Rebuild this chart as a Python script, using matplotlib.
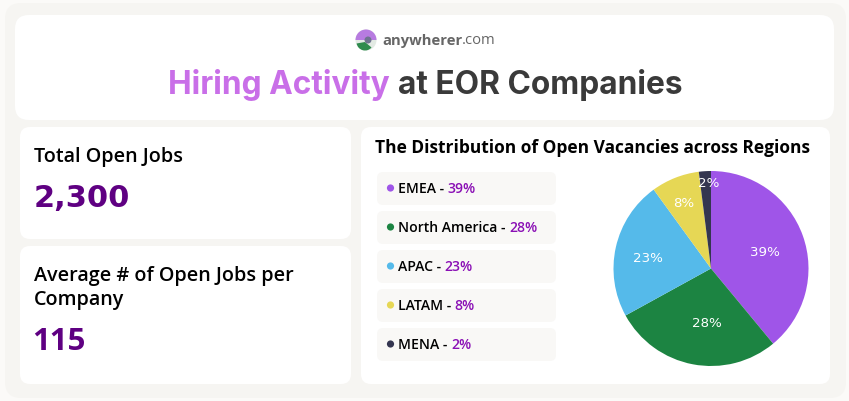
#!/usr/bin/env python3
"""Hiring activity infographic at EOR companies."""

import matplotlib
matplotlib.use("Agg")
import matplotlib.pyplot as plt
from matplotlib.patches import Circle, FancyBboxPatch, Wedge

WIDTH, HEIGHT = 849, 402

REGIONS = ["EMEA", "North America", "APAC", "LATAM", "MENA"]
SHARES = [39, 28, 23, 8, 2]
COLORS = ["#9F55E8", "#1C8442", "#55BAEA", "#E6D755", "#343650"]

TOTAL_JOBS = "2,300"
AVG_JOBS = "115"

BODY_FONT = "Open Sans"
TITLE_FONT = "Inter"
PURPLE = "#5F0082"
ACCENT = "#8A0FB5"


def card(ax, x0, y0, x1, y1, color="white", r=10, zorder=1):
    patch = FancyBboxPatch(
        (x0 + r, y0 + r), x1 - x0 - 2 * r, y1 - y0 - 2 * r,
        boxstyle=f"round,pad={r},rounding_size={r}",
        facecolor=color, edgecolor="none", zorder=zorder,
    )
    ax.add_patch(patch)


def text_width(fig, artist):
    return artist.get_window_extent(fig.canvas.get_renderer()).width


def main():
    fig = plt.figure(figsize=(WIDTH / 100, HEIGHT / 100), dpi=100, facecolor="#FBFAF8")
    ax = fig.add_axes([0, 0, 1, 1])
    ax.set_xlim(0, WIDTH)
    ax.set_ylim(HEIGHT - 1, -1)
    ax.axis("off")

    card(ax, 5, 3, 846, 398, color="#F6F5F2", r=16, zorder=0)
    card(ax, 15, 15, 834, 120, r=14)
    card(ax, 20, 127, 351, 239)
    card(ax, 20, 246, 351, 384)
    card(ax, 361, 127, 830, 384)

    # logo
    ax.add_patch(Circle((366, 40), 10.5, facecolor="#E3EAE4", edgecolor="none", zorder=2))
    ax.add_patch(Wedge((366, 40), 10.5, 180, 360, facecolor="#B77BE0", edgecolor="none", zorder=3))
    ax.add_patch(Wedge((365, 42), 8.5, 40, 170, facecolor="#2F8B4D", edgecolor="none", zorder=3))
    ax.add_patch(Circle((368, 40), 3.5, facecolor="#6F7390", edgecolor="none", zorder=4))
    t = ax.text(382, 40, "anywherer", fontsize=10.6, fontweight="bold", family=BODY_FONT,
                color="#666666", va="center", ha="left", zorder=3)
    ax.text(382 + text_width(fig, t), 40, ".com", fontsize=10.6, family=BODY_FONT,
            color="#666666", va="center", ha="left", zorder=3)

    # main title
    t = ax.text(168, 84, "Hiring Activity", fontsize=22.8, fontweight="bold", family=TITLE_FONT,
                color="#C96FE8", va="center", ha="left", zorder=3)
    ax.text(168 + text_width(fig, t) + 8, 84, "at EOR Companies", fontsize=22.8, fontweight="bold",
            family=TITLE_FONT, color="#3A3A3A", va="center", ha="left", zorder=3)

    # stat cards
    ax.text(34, 156, "Total Open Jobs", fontsize=14.2, fontweight="semibold", family=BODY_FONT,
            color="black", va="center", zorder=3)
    ax.text(34, 198, TOTAL_JOBS, fontsize=22, fontweight="bold", family="DejaVu Sans",
            color=PURPLE, va="center", zorder=3)
    ax.text(34, 275, "Average # of Open Jobs per", fontsize=14.2, fontweight="semibold", family=BODY_FONT,
            color="black", va="center", zorder=3)
    ax.text(34, 299, "Company", fontsize=14.2, fontweight="semibold", family=BODY_FONT,
            color="black", va="center", zorder=3)
    ax.text(32.5, 341, AVG_JOBS, fontsize=22.5, fontweight="bold", family=BODY_FONT,
            color=PURPLE, va="center", zorder=3)

    # legend column
    ax.text(375, 147, "The Distribution of Open Vacancies across Regions", fontsize=12.5,
            fontweight="bold", family=BODY_FONT, color="black", va="center", zorder=3)
    for i, (region, share, color) in enumerate(zip(REGIONS, SHARES, COLORS)):
        top = 172 + i * 39
        card(ax, 377, top, 556, top + 33, color="#F9F8F6", r=6, zorder=2)
        ax.add_patch(Circle((390.5, top + 16), 3.6, facecolor=color, edgecolor="none", zorder=3))
        t = ax.text(398, top + 16.5, f"{region} - ", fontsize=10.1, fontweight="semibold", family=BODY_FONT,
                    color="black", va="center", zorder=3)
        ax.text(398 + text_width(fig, t), top + 16.5, f"{share}%", fontsize=10.1, fontweight="semibold",
                family=BODY_FONT, color=ACCENT, va="center", zorder=3)

    # pie, centre (711, 269.5) radius 97 px
    r = 97.5
    pie_ax = fig.add_axes([(711 - r) / WIDTH, 1 - (269.5 + r) / HEIGHT, 2 * r / WIDTH, 2 * r / HEIGHT])
    wedges, _ = pie_ax.pie(SHARES, colors=COLORS, startangle=90, counterclock=False, radius=1.0)
    pie_ax.set_xlim(-1, 1)
    pie_ax.set_ylim(-1, 1)
    # label spots in pie units, they do not follow a fixed radius in the original
    label_spots = [(0.554, 0.172), (-0.044, -0.549), (-0.649, 0.108), (-0.277, 0.682), (-0.02, 0.887)]
    for (lx, ly), share in zip(label_spots, SHARES):
        pie_ax.text(lx, ly, f"{share}%", color="white", fontsize=9.6,
                    family="DejaVu Sans", ha="center", va="center")

    fig.savefig("out.png", dpi=100)


if __name__ == "__main__":
    main()
